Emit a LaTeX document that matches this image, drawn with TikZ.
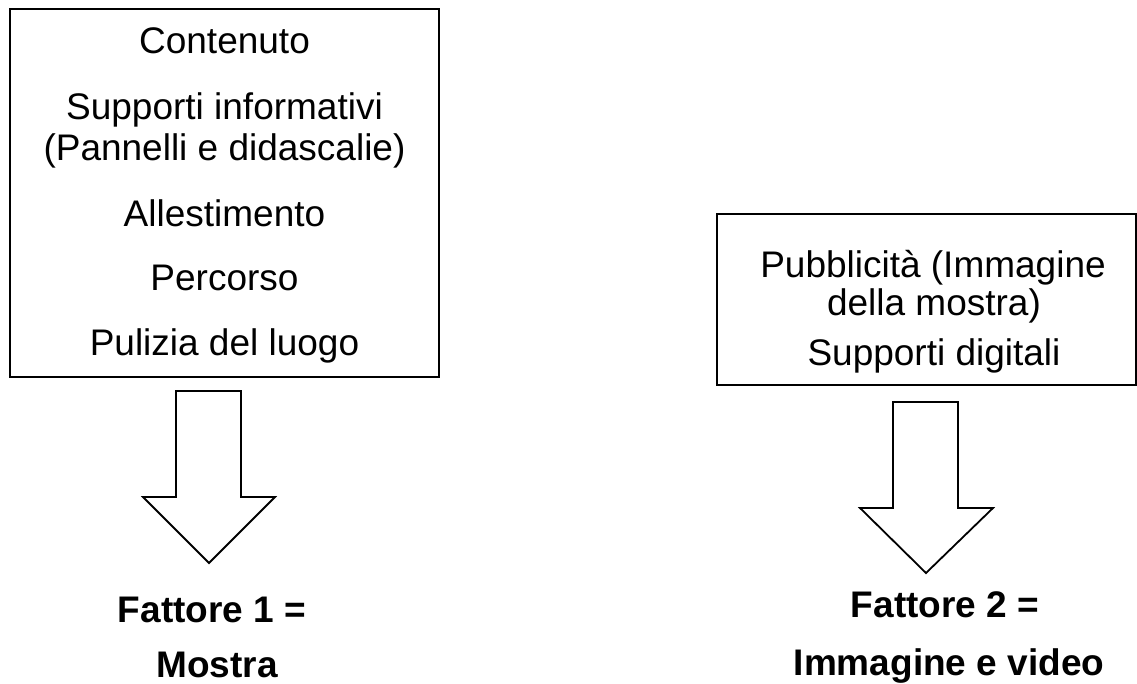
\documentclass[tikz,border=0pt]{standalone}
\usepackage{fontspec}
\setmainfont{Liberation Sans}
\begin{document}
\begin{tikzpicture}[x=1pt,y=-1pt,
  boxstyle/.style={draw=black,line width=2pt,inner sep=0pt},
  txt/.style={anchor=base,inner sep=0pt,font=\fontsize{37}{44}\selectfont},
  btxt/.style={anchor=base,inner sep=0pt,font=\fontsize{37}{44}\selectfont\bfseries},
  blockarrow/.style={draw=black,line width=1.8pt,line join=miter,fill=white}]
\useasboundingbox (0,0) rectangle (1137,683);
% left box
\node[boxstyle,minimum width=429pt,minimum height=368pt] (lbox) at (224.5,193) {};
\node[txt] (l1) at (224.5,53) {Contenuto};
\node[txt] (l2) at (224.5,119) {Supporti informativi};
\node[txt] (l3) at (224.5,160) {(Pannelli e didascalie)};
\node[txt] (l4) at (224.5,226) {Allestimento};
\node[txt] (l5) at (224.5,290) {Percorso};
\node[txt] (l6) at (224.5,355) {Pulizia del luogo};
% right box
\node[boxstyle,minimum width=419pt,minimum height=171pt] (rbox) at (926.5,299.5) {};
\node[txt] (r1) at (933,277) {Pubblicità (Immagine};
\node[txt] (r2) at (934,315) {della mostra)};
\node[txt] (r3) at (934,365) {Supporti digitali};
% block arrows
\draw[blockarrow] (176,391) -- (241,391) -- (241,497) -- (275,497) -- (209,563) -- (143,497) -- (176,497) -- cycle;
\draw[blockarrow] (893,402) -- (958,402) -- (958,508) -- (993,508) -- (926,573) -- (860,508) -- (893,508) -- cycle;
% labels
\node[btxt] (f1) at (212,622) {Fattore 1 =};
\node[btxt] (f1b) at (217,677) {Mostra};
\node[btxt] (f2) at (945,617) {Fattore 2 =};
\node[btxt] (f2b) at (949,675) {Immagine e video};
\end{tikzpicture}
\end{document}
